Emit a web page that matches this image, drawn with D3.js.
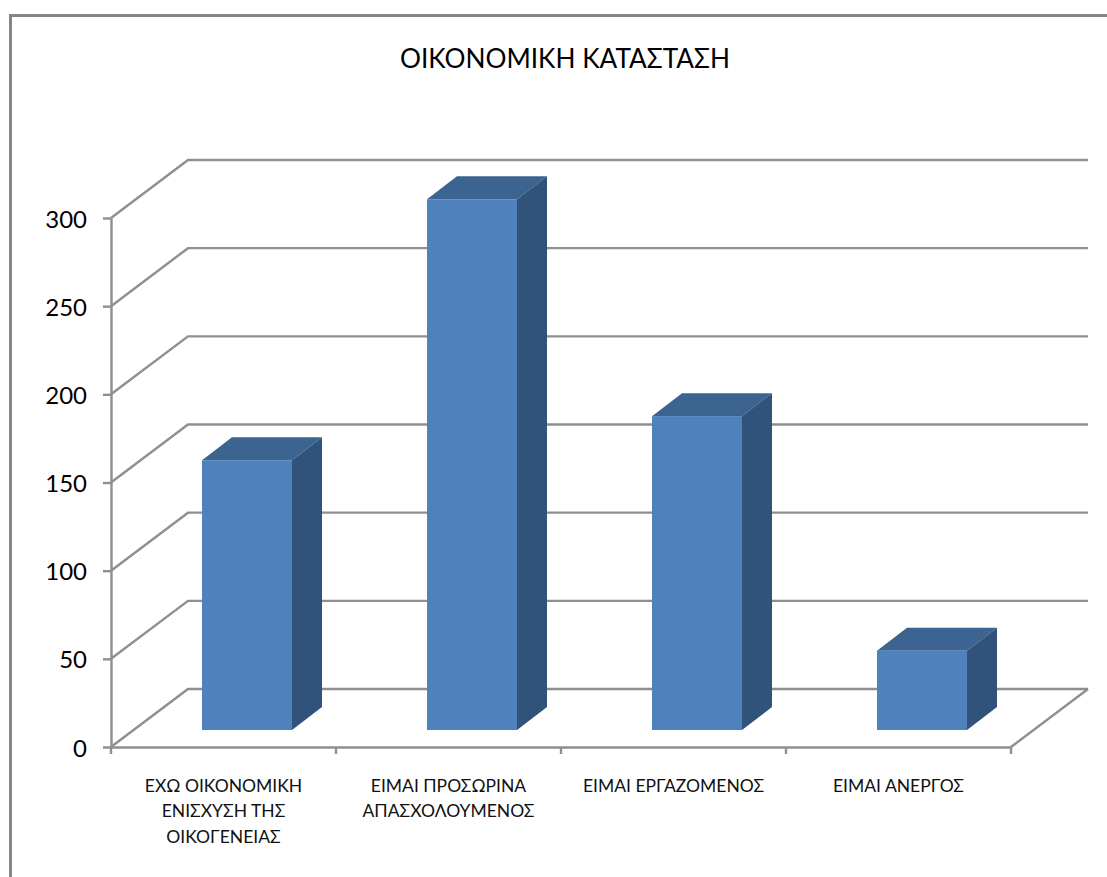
<!DOCTYPE html>
<html lang="el">
<head>
    <meta charset="UTF-8">
    <title>ΟΙΚΟΝΟΜΙΚΗ ΚΑΤΑΣΤΑΣΗ</title>
    <script src="https://d3js.org/d3.v7.min.js"></script>
    <style>
        html, body { margin: 0; padding: 0; background: #fff; overflow: hidden; }
        svg { display: block; font-family: Lato, "Open Sans", sans-serif; }
        .grid { fill: none; stroke: #8f8f8f; stroke-width: 2.4px; }
        .axis path, .axis line { stroke: #8f8f8f; stroke-width: 2.4px; }
        .axis text { fill: #000; font-family: Lato, "Open Sans", sans-serif; }
        .y-axis text { font-size: 24px; }
        .cat-label { font-size: 17.5px; text-anchor: middle; fill: #111; }
        .chart-title { font-size: 26.2px; text-anchor: middle; fill: #000; }
    </style>
</head>
<body>
    <div id="chart"></div>
    <script>
        const title = "ΟΙΚΟΝΟΜΙΚΗ ΚΑΤΑΣΤΑΣΗ";
        const categories = ["a", "b", "c", "d"];
        const categoryLines = [
            ["ΕΧΩ ΟΙΚΟΝΟΜΙΚΗ", "ΕΝΙΣΧΥΣΗ ΤΗΣ", "ΟΙΚΟΓΕΝΕΙΑΣ"],
            ["ΕΙΜΑΙ ΠΡΟΣΩΡΙΝΑ", "ΑΠΑΣΧΟΛΟΥΜΕΝΟΣ"],
            ["ΕΙΜΑΙ ΕΡΓΑΖΟΜΕΝΟΣ"],
            ["ΕΙΜΑΙ ΑΝΕΡΓΟΣ"]
        ];
        const values = [153, 301, 178, 45];
        const yTicks = [0, 50, 100, 150, 200, 250, 300];

        const svg = d3.select("#chart").append("svg")
            .attr("width", 1107)
            .attr("height", 877);

        // outer chart frame, runs off the right and bottom of the picture
        svg.append("path")
            .attr("d", "M10.5,877V15.5H1107")
            .attr("fill", "none")
            .attr("stroke", "#868686")
            .attr("stroke-width", 3);

        const xScale = d3.scaleBand()
            .domain(categories)
            .range([111, 1011])
            .padding(0);

        const yScale = d3.scaleLinear()
            .domain([0, 300])
            .range([747, 218]);

        // depth of the 3D box and of the bars
        const wallDx = 77, wallDy = -58;
        const barDx = 30, barDy = -23;
        const barWidth = 90;
        const barShiftX = 23.5, barShiftY = -17;

        // side wall and back wall lines
        svg.append("g")
            .selectAll("path")
            .data(yTicks)
            .enter().append("path")
            .attr("class", "grid")
            .attr("d", d => {
                const y = yScale(d);
                return `M111,${y}L${111 + wallDx},${y + wallDy}H${1011 + wallDx}`;
            });

        // floor right edge
        svg.append("line")
            .attr("class", "grid")
            .attr("x1", 1011).attr("y1", yScale(0))
            .attr("x2", 1011 + wallDx).attr("y2", yScale(0) + wallDy);

        svg.append("g")
            .attr("class", "axis y-axis")
            .attr("transform", "translate(111, 0)")
            .call(d3.axisLeft(yScale).tickValues(yTicks).tickSize(8).tickPadding(16).tickSizeOuter(0))
            .call(g => g.selectAll("text").attr("dy", "0.38em"));

        svg.append("g")
            .attr("class", "axis x-axis")
            .attr("transform", `translate(0, ${yScale(0)})`)
            .call(d3.axisBottom(xScale).tickValues([]).tickSize(0))
            .call(g => g.selectAll(".edge").data([111, 336, 561, 786, 1011]).enter()
                .append("line")
                .attr("x1", d => d).attr("x2", d => d)
                .attr("y1", 0).attr("y2", 7));

        // bars: front, top and side faces
        svg.append("g")
            .selectAll("g")
            .data(values)
            .enter().append("g")
            .each(function (d, i) {
                const left = xScale(categories[i]) + (xScale.bandwidth() - barWidth) / 2 + barShiftX;
                const right = left + barWidth;
                const base = yScale(0) + barShiftY;
                const top = yScale(d) + barShiftY;
                const g = d3.select(this);

                g.append("polygon")
                    .attr("fill", "#3C6491")
                    .attr("points", [[left, top], [left + barDx, top + barDy], [right + barDx, top + barDy], [right, top]].join(" "));
                g.append("polygon")
                    .attr("fill", "#31527A")
                    .attr("points", [[right, top], [right + barDx, top + barDy], [right + barDx, base + barDy], [right, base]].join(" "));
                g.append("rect")
                    .attr("fill", "#4F81BD")
                    .attr("x", left).attr("y", top)
                    .attr("width", barWidth).attr("height", base - top);
            });

        // category labels
        categories.forEach((c, i) => {
            svg.append("text")
                .attr("class", "cat-label")
                .selectAll("tspan")
                .data(categoryLines[i])
                .enter().append("tspan")
                .attr("x", xScale(c) + xScale.bandwidth() / 2)
                .attr("y", (d, j) => 791.5 + j * 25.8)
                .text(d => d);
        });

        svg.append("text")
            .attr("class", "chart-title")
            .attr("x", 565)
            .attr("y", 68)
            .text(title);
    </script>
</body>
</html>
